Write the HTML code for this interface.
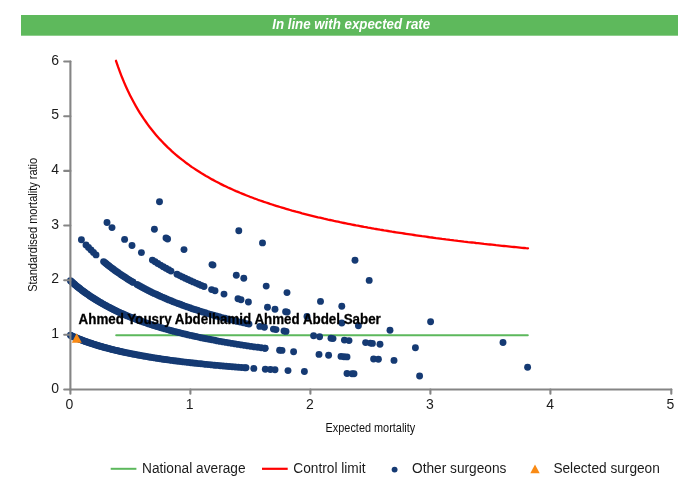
<!DOCTYPE html>
<html><head><meta charset="utf-8"><title>Funnel plot</title>
<style>
html,body{margin:0;padding:0;background:#fff;}
svg{display:block;font-family:"Liberation Sans",sans-serif;}
</style></head>
<body>
<svg width="700" height="500" viewBox="0 0 700 500">
<rect width="700" height="500" fill="#fff"/>
<rect x="21" y="15" width="657" height="20.7" fill="#5eb95c"/>
<text x="272.2" y="28.9" font-size="14" textLength="158" lengthAdjust="spacingAndGlyphs" font-weight="bold" font-style="italic" fill="#fff">In line with expected rate</text>
<line x1="116.2" y1="335.2" x2="527.8" y2="335.2" stroke="#5cb85c" stroke-width="2" stroke-linecap="round"/>
<g fill="#153a73">
<circle cx="70.4" cy="335.3" r="3.45"/>
<circle cx="71.3" cy="335.8" r="3.45"/>
<circle cx="72.2" cy="336.2" r="3.45"/>
<circle cx="73.2" cy="336.6" r="3.45"/>
<circle cx="74.1" cy="337.0" r="3.45"/>
<circle cx="75.0" cy="337.4" r="3.45"/>
<circle cx="76.0" cy="337.8" r="3.45"/>
<circle cx="77.0" cy="338.2" r="3.45"/>
<circle cx="78.0" cy="338.6" r="3.45"/>
<circle cx="79.0" cy="339.0" r="3.45"/>
<circle cx="80.0" cy="339.4" r="3.45"/>
<circle cx="81.0" cy="339.8" r="3.45"/>
<circle cx="82.1" cy="340.2" r="3.45"/>
<circle cx="83.2" cy="340.6" r="3.45"/>
<circle cx="84.2" cy="341.0" r="3.45"/>
<circle cx="85.3" cy="341.4" r="3.45"/>
<circle cx="86.4" cy="341.8" r="3.45"/>
<circle cx="87.5" cy="342.2" r="3.45"/>
<circle cx="88.7" cy="342.6" r="3.45"/>
<circle cx="89.8" cy="343.0" r="3.45"/>
<circle cx="91.0" cy="343.3" r="3.45"/>
<circle cx="92.2" cy="343.7" r="3.45"/>
<circle cx="93.4" cy="344.1" r="3.45"/>
<circle cx="94.6" cy="344.5" r="3.45"/>
<circle cx="95.8" cy="344.9" r="3.45"/>
<circle cx="97.0" cy="345.3" r="3.45"/>
<circle cx="98.3" cy="345.7" r="3.45"/>
<circle cx="99.6" cy="346.0" r="3.45"/>
<circle cx="100.9" cy="346.4" r="3.45"/>
<circle cx="102.2" cy="346.8" r="3.45"/>
<circle cx="103.5" cy="347.2" r="3.45"/>
<circle cx="104.9" cy="347.5" r="3.45"/>
<circle cx="106.2" cy="347.9" r="3.45"/>
<circle cx="107.6" cy="348.3" r="3.45"/>
<circle cx="109.0" cy="348.6" r="3.45"/>
<circle cx="110.4" cy="349.0" r="3.45"/>
<circle cx="111.9" cy="349.4" r="3.45"/>
<circle cx="113.3" cy="349.7" r="3.45"/>
<circle cx="114.8" cy="350.1" r="3.45"/>
<circle cx="116.3" cy="350.5" r="3.45"/>
<circle cx="117.8" cy="350.8" r="3.45"/>
<circle cx="119.4" cy="351.2" r="3.45"/>
<circle cx="120.9" cy="351.5" r="3.45"/>
<circle cx="122.5" cy="351.9" r="3.45"/>
<circle cx="124.1" cy="352.2" r="3.45"/>
<circle cx="125.7" cy="352.6" r="3.45"/>
<circle cx="127.4" cy="352.9" r="3.45"/>
<circle cx="129.0" cy="353.3" r="3.45"/>
<circle cx="130.7" cy="353.6" r="3.45"/>
<circle cx="132.4" cy="354.0" r="3.45"/>
<circle cx="134.2" cy="354.3" r="3.45"/>
<circle cx="135.9" cy="354.6" r="3.45"/>
<circle cx="137.7" cy="355.0" r="3.45"/>
<circle cx="139.5" cy="355.3" r="3.45"/>
<circle cx="141.3" cy="355.6" r="3.45"/>
<circle cx="143.2" cy="356.0" r="3.45"/>
<circle cx="145.1" cy="356.3" r="3.45"/>
<circle cx="147.0" cy="356.6" r="3.45"/>
<circle cx="148.9" cy="357.0" r="3.45"/>
<circle cx="150.8" cy="357.3" r="3.45"/>
<circle cx="152.8" cy="357.6" r="3.45"/>
<circle cx="154.8" cy="357.9" r="3.45"/>
<circle cx="156.8" cy="358.2" r="3.45"/>
<circle cx="158.9" cy="358.5" r="3.45"/>
<circle cx="161.0" cy="358.9" r="3.45"/>
<circle cx="163.1" cy="359.2" r="3.45"/>
<circle cx="165.2" cy="359.5" r="3.45"/>
<circle cx="167.4" cy="359.8" r="3.45"/>
<circle cx="169.6" cy="360.1" r="3.45"/>
<circle cx="171.8" cy="360.4" r="3.45"/>
<circle cx="174.1" cy="360.7" r="3.45"/>
<circle cx="176.4" cy="361.0" r="3.45"/>
<circle cx="178.7" cy="361.3" r="3.45"/>
<circle cx="181.1" cy="361.6" r="3.45"/>
<circle cx="183.4" cy="361.9" r="3.45"/>
<circle cx="185.9" cy="362.1" r="3.45"/>
<circle cx="188.3" cy="362.4" r="3.45"/>
<circle cx="190.8" cy="362.7" r="3.45"/>
<circle cx="193.3" cy="363.0" r="3.45"/>
<circle cx="195.8" cy="363.3" r="3.45"/>
<circle cx="198.4" cy="363.6" r="3.45"/>
<circle cx="201.0" cy="363.8" r="3.45"/>
<circle cx="203.7" cy="364.1" r="3.45"/>
<circle cx="206.3" cy="364.4" r="3.45"/>
<circle cx="209.1" cy="364.6" r="3.45"/>
<circle cx="211.8" cy="364.9" r="3.45"/>
<circle cx="214.6" cy="365.2" r="3.45"/>
<circle cx="217.4" cy="365.4" r="3.45"/>
<circle cx="220.3" cy="365.7" r="3.45"/>
<circle cx="223.2" cy="366.0" r="3.45"/>
<circle cx="226.2" cy="366.2" r="3.45"/>
<circle cx="229.1" cy="366.5" r="3.45"/>
<circle cx="232.2" cy="366.7" r="3.45"/>
<circle cx="235.2" cy="367.0" r="3.45"/>
<circle cx="238.3" cy="367.2" r="3.45"/>
<circle cx="241.5" cy="367.5" r="3.45"/>
<circle cx="244.7" cy="367.7" r="3.45"/>
<circle cx="246.0" cy="367.8" r="3.45"/>
<circle cx="253.8" cy="368.4" r="3.45"/>
<circle cx="265.3" cy="369.2" r="3.45"/>
<circle cx="270.4" cy="369.5" r="3.45"/>
<circle cx="275.0" cy="369.8" r="3.45"/>
<circle cx="288.0" cy="370.6" r="3.45"/>
<circle cx="304.4" cy="371.5" r="3.45"/>
<circle cx="347.0" cy="373.5" r="3.45"/>
<circle cx="352.0" cy="373.7" r="3.45"/>
<circle cx="354.0" cy="373.7" r="3.45"/>
<circle cx="419.6" cy="376.0" r="3.45"/>
<circle cx="70.4" cy="280.7" r="3.45"/>
<circle cx="71.3" cy="281.5" r="3.45"/>
<circle cx="72.2" cy="282.3" r="3.45"/>
<circle cx="73.2" cy="283.1" r="3.45"/>
<circle cx="74.1" cy="283.9" r="3.45"/>
<circle cx="75.0" cy="284.8" r="3.45"/>
<circle cx="76.0" cy="285.6" r="3.45"/>
<circle cx="77.0" cy="286.4" r="3.45"/>
<circle cx="78.0" cy="287.2" r="3.45"/>
<circle cx="79.0" cy="288.0" r="3.45"/>
<circle cx="80.0" cy="288.8" r="3.45"/>
<circle cx="81.0" cy="289.6" r="3.45"/>
<circle cx="82.1" cy="290.4" r="3.45"/>
<circle cx="83.2" cy="291.2" r="3.45"/>
<circle cx="84.2" cy="292.0" r="3.45"/>
<circle cx="85.3" cy="292.8" r="3.45"/>
<circle cx="86.4" cy="293.6" r="3.45"/>
<circle cx="87.5" cy="294.3" r="3.45"/>
<circle cx="88.7" cy="295.1" r="3.45"/>
<circle cx="89.8" cy="295.9" r="3.45"/>
<circle cx="91.0" cy="296.7" r="3.45"/>
<circle cx="92.2" cy="297.5" r="3.45"/>
<circle cx="93.4" cy="298.2" r="3.45"/>
<circle cx="94.6" cy="299.0" r="3.45"/>
<circle cx="95.8" cy="299.8" r="3.45"/>
<circle cx="97.0" cy="300.5" r="3.45"/>
<circle cx="98.3" cy="301.3" r="3.45"/>
<circle cx="99.6" cy="302.1" r="3.45"/>
<circle cx="100.9" cy="302.8" r="3.45"/>
<circle cx="102.2" cy="303.6" r="3.45"/>
<circle cx="103.5" cy="304.3" r="3.45"/>
<circle cx="104.9" cy="305.1" r="3.45"/>
<circle cx="106.2" cy="305.8" r="3.45"/>
<circle cx="107.6" cy="306.6" r="3.45"/>
<circle cx="109.0" cy="307.3" r="3.45"/>
<circle cx="110.4" cy="308.0" r="3.45"/>
<circle cx="111.9" cy="308.8" r="3.45"/>
<circle cx="113.3" cy="309.5" r="3.45"/>
<circle cx="114.8" cy="310.2" r="3.45"/>
<circle cx="116.3" cy="310.9" r="3.45"/>
<circle cx="117.8" cy="311.7" r="3.45"/>
<circle cx="119.4" cy="312.4" r="3.45"/>
<circle cx="120.9" cy="313.1" r="3.45"/>
<circle cx="122.5" cy="313.8" r="3.45"/>
<circle cx="124.1" cy="314.5" r="3.45"/>
<circle cx="125.7" cy="315.2" r="3.45"/>
<circle cx="127.4" cy="315.9" r="3.45"/>
<circle cx="129.0" cy="316.6" r="3.45"/>
<circle cx="130.7" cy="317.3" r="3.45"/>
<circle cx="132.4" cy="317.9" r="3.45"/>
<circle cx="134.2" cy="318.6" r="3.45"/>
<circle cx="135.9" cy="319.3" r="3.45"/>
<circle cx="137.7" cy="320.0" r="3.45"/>
<circle cx="139.5" cy="320.6" r="3.45"/>
<circle cx="141.3" cy="321.3" r="3.45"/>
<circle cx="143.2" cy="322.0" r="3.45"/>
<circle cx="145.1" cy="322.6" r="3.45"/>
<circle cx="147.0" cy="323.3" r="3.45"/>
<circle cx="148.9" cy="323.9" r="3.45"/>
<circle cx="150.8" cy="324.6" r="3.45"/>
<circle cx="152.8" cy="325.2" r="3.45"/>
<circle cx="154.8" cy="325.8" r="3.45"/>
<circle cx="156.8" cy="326.5" r="3.45"/>
<circle cx="158.9" cy="327.1" r="3.45"/>
<circle cx="161.0" cy="327.7" r="3.45"/>
<circle cx="163.1" cy="328.3" r="3.45"/>
<circle cx="165.2" cy="328.9" r="3.45"/>
<circle cx="167.4" cy="329.6" r="3.45"/>
<circle cx="169.6" cy="330.2" r="3.45"/>
<circle cx="171.8" cy="330.8" r="3.45"/>
<circle cx="174.1" cy="331.4" r="3.45"/>
<circle cx="176.4" cy="332.0" r="3.45"/>
<circle cx="178.7" cy="332.5" r="3.45"/>
<circle cx="181.1" cy="333.1" r="3.45"/>
<circle cx="183.4" cy="333.7" r="3.45"/>
<circle cx="185.9" cy="334.3" r="3.45"/>
<circle cx="188.3" cy="334.9" r="3.45"/>
<circle cx="190.8" cy="335.4" r="3.45"/>
<circle cx="193.3" cy="336.0" r="3.45"/>
<circle cx="195.8" cy="336.5" r="3.45"/>
<circle cx="198.4" cy="337.1" r="3.45"/>
<circle cx="201.0" cy="337.7" r="3.45"/>
<circle cx="203.7" cy="338.2" r="3.45"/>
<circle cx="206.3" cy="338.7" r="3.45"/>
<circle cx="209.1" cy="339.3" r="3.45"/>
<circle cx="211.8" cy="339.8" r="3.45"/>
<circle cx="214.6" cy="340.3" r="3.45"/>
<circle cx="217.4" cy="340.9" r="3.45"/>
<circle cx="220.3" cy="341.4" r="3.45"/>
<circle cx="223.2" cy="341.9" r="3.45"/>
<circle cx="226.2" cy="342.4" r="3.45"/>
<circle cx="229.1" cy="342.9" r="3.45"/>
<circle cx="232.2" cy="343.4" r="3.45"/>
<circle cx="235.2" cy="343.9" r="3.45"/>
<circle cx="238.3" cy="344.4" r="3.45"/>
<circle cx="241.5" cy="344.9" r="3.45"/>
<circle cx="244.7" cy="345.4" r="3.45"/>
<circle cx="247.9" cy="345.9" r="3.45"/>
<circle cx="251.2" cy="346.4" r="3.45"/>
<circle cx="254.5" cy="346.9" r="3.45"/>
<circle cx="257.8" cy="347.3" r="3.45"/>
<circle cx="261.2" cy="347.8" r="3.45"/>
<circle cx="264.7" cy="348.3" r="3.45"/>
<circle cx="265.2" cy="348.3" r="3.45"/>
<circle cx="279.6" cy="350.2" r="3.45"/>
<circle cx="282.0" cy="350.4" r="3.45"/>
<circle cx="293.6" cy="351.8" r="3.45"/>
<circle cx="319.0" cy="354.4" r="3.45"/>
<circle cx="328.6" cy="355.3" r="3.45"/>
<circle cx="341.0" cy="356.4" r="3.45"/>
<circle cx="344.0" cy="356.7" r="3.45"/>
<circle cx="347.0" cy="356.9" r="3.45"/>
<circle cx="373.6" cy="359.0" r="3.45"/>
<circle cx="378.4" cy="359.3" r="3.45"/>
<circle cx="394.0" cy="360.4" r="3.45"/>
<circle cx="527.6" cy="367.3" r="3.45"/>
<circle cx="81.4" cy="239.8" r="3.45"/>
<circle cx="86.0" cy="244.9" r="3.45"/>
<circle cx="88.5" cy="247.5" r="3.45"/>
<circle cx="91.0" cy="250.0" r="3.45"/>
<circle cx="93.5" cy="252.5" r="3.45"/>
<circle cx="96.0" cy="254.9" r="3.45"/>
<circle cx="103.6" cy="261.6" r="3.45"/>
<circle cx="105.0" cy="262.7" r="3.45"/>
<circle cx="106.3" cy="263.8" r="3.45"/>
<circle cx="107.7" cy="264.9" r="3.45"/>
<circle cx="109.1" cy="266.0" r="3.45"/>
<circle cx="110.5" cy="267.1" r="3.45"/>
<circle cx="112.0" cy="268.2" r="3.45"/>
<circle cx="113.4" cy="269.3" r="3.45"/>
<circle cx="114.9" cy="270.4" r="3.45"/>
<circle cx="116.4" cy="271.5" r="3.45"/>
<circle cx="117.9" cy="272.5" r="3.45"/>
<circle cx="119.5" cy="273.6" r="3.45"/>
<circle cx="121.0" cy="274.7" r="3.45"/>
<circle cx="122.6" cy="275.7" r="3.45"/>
<circle cx="124.2" cy="276.8" r="3.45"/>
<circle cx="125.8" cy="277.8" r="3.45"/>
<circle cx="127.5" cy="278.9" r="3.45"/>
<circle cx="129.1" cy="279.9" r="3.45"/>
<circle cx="130.8" cy="280.9" r="3.45"/>
<circle cx="132.5" cy="282.0" r="3.45"/>
<circle cx="133.0" cy="282.2" r="3.45"/>
<circle cx="137.0" cy="284.5" r="3.45"/>
<circle cx="138.8" cy="285.5" r="3.45"/>
<circle cx="140.6" cy="286.5" r="3.45"/>
<circle cx="142.4" cy="287.5" r="3.45"/>
<circle cx="144.3" cy="288.5" r="3.45"/>
<circle cx="146.2" cy="289.5" r="3.45"/>
<circle cx="148.1" cy="290.5" r="3.45"/>
<circle cx="150.1" cy="291.4" r="3.45"/>
<circle cx="152.0" cy="292.4" r="3.45"/>
<circle cx="154.0" cy="293.4" r="3.45"/>
<circle cx="156.1" cy="294.3" r="3.45"/>
<circle cx="158.1" cy="295.3" r="3.45"/>
<circle cx="160.2" cy="296.2" r="3.45"/>
<circle cx="162.3" cy="297.1" r="3.45"/>
<circle cx="164.4" cy="298.0" r="3.45"/>
<circle cx="166.6" cy="299.0" r="3.45"/>
<circle cx="168.8" cy="299.9" r="3.45"/>
<circle cx="171.0" cy="300.8" r="3.45"/>
<circle cx="173.2" cy="301.7" r="3.45"/>
<circle cx="175.5" cy="302.6" r="3.45"/>
<circle cx="177.8" cy="303.5" r="3.45"/>
<circle cx="180.1" cy="304.3" r="3.45"/>
<circle cx="182.5" cy="305.2" r="3.45"/>
<circle cx="184.9" cy="306.1" r="3.45"/>
<circle cx="187.3" cy="306.9" r="3.45"/>
<circle cx="189.8" cy="307.8" r="3.45"/>
<circle cx="192.3" cy="308.7" r="3.45"/>
<circle cx="194.8" cy="309.5" r="3.45"/>
<circle cx="197.4" cy="310.3" r="3.45"/>
<circle cx="200.0" cy="311.2" r="3.45"/>
<circle cx="202.6" cy="312.0" r="3.45"/>
<circle cx="205.3" cy="312.8" r="3.45"/>
<circle cx="208.0" cy="313.6" r="3.45"/>
<circle cx="210.7" cy="314.4" r="3.45"/>
<circle cx="213.5" cy="315.2" r="3.45"/>
<circle cx="216.3" cy="316.0" r="3.45"/>
<circle cx="219.2" cy="316.8" r="3.45"/>
<circle cx="222.1" cy="317.6" r="3.45"/>
<circle cx="225.0" cy="318.3" r="3.45"/>
<circle cx="228.0" cy="319.1" r="3.45"/>
<circle cx="231.0" cy="319.9" r="3.45"/>
<circle cx="234.0" cy="320.6" r="3.45"/>
<circle cx="237.1" cy="321.4" r="3.45"/>
<circle cx="240.2" cy="322.1" r="3.45"/>
<circle cx="243.4" cy="322.8" r="3.45"/>
<circle cx="246.6" cy="323.6" r="3.45"/>
<circle cx="249.0" cy="324.1" r="3.45"/>
<circle cx="259.8" cy="326.4" r="3.45"/>
<circle cx="264.4" cy="327.3" r="3.45"/>
<circle cx="273.4" cy="329.1" r="3.45"/>
<circle cx="276.0" cy="329.6" r="3.45"/>
<circle cx="284.0" cy="331.0" r="3.45"/>
<circle cx="286.0" cy="331.4" r="3.45"/>
<circle cx="313.6" cy="335.8" r="3.45"/>
<circle cx="319.6" cy="336.7" r="3.45"/>
<circle cx="331.0" cy="338.3" r="3.45"/>
<circle cx="333.0" cy="338.6" r="3.45"/>
<circle cx="344.4" cy="340.1" r="3.45"/>
<circle cx="349.0" cy="340.6" r="3.45"/>
<circle cx="365.6" cy="342.6" r="3.45"/>
<circle cx="370.4" cy="343.1" r="3.45"/>
<circle cx="372.4" cy="343.4" r="3.45"/>
<circle cx="380.0" cy="344.2" r="3.45"/>
<circle cx="415.4" cy="347.7" r="3.45"/>
<circle cx="107.0" cy="222.5" r="3.45"/>
<circle cx="112.0" cy="227.6" r="3.45"/>
<circle cx="124.6" cy="239.4" r="3.45"/>
<circle cx="132.0" cy="245.5" r="3.45"/>
<circle cx="141.4" cy="252.6" r="3.45"/>
<circle cx="152.4" cy="260.1" r="3.45"/>
<circle cx="155.1" cy="261.8" r="3.45"/>
<circle cx="157.8" cy="263.5" r="3.45"/>
<circle cx="160.5" cy="265.1" r="3.45"/>
<circle cx="163.2" cy="266.7" r="3.45"/>
<circle cx="165.9" cy="268.3" r="3.45"/>
<circle cx="168.6" cy="269.8" r="3.45"/>
<circle cx="171.0" cy="271.1" r="3.45"/>
<circle cx="177.0" cy="274.2" r="3.45"/>
<circle cx="179.7" cy="275.6" r="3.45"/>
<circle cx="182.4" cy="276.9" r="3.45"/>
<circle cx="185.1" cy="278.2" r="3.45"/>
<circle cx="187.8" cy="279.5" r="3.45"/>
<circle cx="190.5" cy="280.7" r="3.45"/>
<circle cx="193.2" cy="281.9" r="3.45"/>
<circle cx="195.9" cy="283.1" r="3.45"/>
<circle cx="198.6" cy="284.3" r="3.45"/>
<circle cx="201.3" cy="285.4" r="3.45"/>
<circle cx="204.0" cy="286.5" r="3.45"/>
<circle cx="211.6" cy="289.6" r="3.45"/>
<circle cx="215.0" cy="290.8" r="3.45"/>
<circle cx="224.0" cy="294.1" r="3.45"/>
<circle cx="238.0" cy="298.8" r="3.45"/>
<circle cx="241.0" cy="299.7" r="3.45"/>
<circle cx="248.4" cy="302.0" r="3.45"/>
<circle cx="267.5" cy="307.3" r="3.45"/>
<circle cx="275.0" cy="309.2" r="3.45"/>
<circle cx="285.6" cy="311.7" r="3.45"/>
<circle cx="287.2" cy="312.1" r="3.45"/>
<circle cx="307.0" cy="316.4" r="3.45"/>
<circle cx="341.8" cy="323.0" r="3.45"/>
<circle cx="358.4" cy="325.7" r="3.45"/>
<circle cx="390.0" cy="330.3" r="3.45"/>
<circle cx="503.0" cy="342.5" r="3.45"/>
<circle cx="154.4" cy="229.2" r="3.45"/>
<circle cx="166.0" cy="237.9" r="3.45"/>
<circle cx="167.6" cy="239.0" r="3.45"/>
<circle cx="184.0" cy="249.6" r="3.45"/>
<circle cx="212.0" cy="264.6" r="3.45"/>
<circle cx="213.0" cy="265.1" r="3.45"/>
<circle cx="236.3" cy="275.3" r="3.45"/>
<circle cx="243.8" cy="278.2" r="3.45"/>
<circle cx="266.2" cy="286.1" r="3.45"/>
<circle cx="287.0" cy="292.6" r="3.45"/>
<circle cx="320.5" cy="301.4" r="3.45"/>
<circle cx="341.8" cy="306.2" r="3.45"/>
<circle cx="430.6" cy="321.7" r="3.45"/>
<circle cx="159.5" cy="201.8" r="3.45"/>
<circle cx="238.8" cy="230.8" r="3.45"/>
<circle cx="262.5" cy="242.9" r="3.45"/>
<circle cx="369.2" cy="280.4" r="3.45"/>
<circle cx="355.0" cy="260.3" r="3.45"/>
</g>
<path d="M116.0,60.8 L118.0,66.7 L120.0,72.1 L122.0,77.3 L124.0,82.1 L126.0,86.7 L128.0,91.1 L130.0,95.2 L132.0,99.1 L134.0,102.8 L136.0,106.4 L138.0,109.8 L140.0,113.1 L142.0,116.2 L144.0,119.2 L146.0,122.0 L148.0,124.8 L150.0,127.5 L152.0,130.0 L154.0,132.5 L156.0,134.9 L158.0,137.2 L160.0,139.4 L162.0,141.5 L164.0,143.6 L166.0,145.6 L168.0,147.6 L170.0,149.4 L172.0,151.3 L174.0,153.1 L176.0,154.8 L178.0,156.5 L180.0,158.1 L182.0,159.7 L184.0,161.2 L186.0,162.8 L188.0,164.2 L190.0,165.7 L192.0,167.1 L194.0,168.4 L196.0,169.7 L198.0,171.0 L200.0,172.3 L202.0,173.6 L204.0,174.8 L206.0,176.0 L208.0,177.1 L210.0,178.2 L212.0,179.4 L214.0,180.4 L216.0,181.5 L218.0,182.5 L220.0,183.6 L222.0,184.6 L224.0,185.6 L226.0,186.5 L228.0,187.5 L230.0,188.4 L232.0,189.3 L234.0,190.2 L236.0,191.1 L238.0,191.9 L240.0,192.8 L242.0,193.6 L244.0,194.4 L246.0,195.2 L248.0,196.0 L250.0,196.8 L252.0,197.5 L254.0,198.3 L256.0,199.0 L258.0,199.8 L260.0,200.5 L262.0,201.2 L264.0,201.9 L266.0,202.5 L268.0,203.2 L270.0,203.9 L272.0,204.5 L274.0,205.2 L276.0,205.8 L278.0,206.4 L280.0,207.0 L282.0,207.6 L284.0,208.2 L286.0,208.8 L288.0,209.4 L290.0,210.0 L292.0,210.6 L294.0,211.1 L296.0,211.7 L298.0,212.2 L300.0,212.7 L302.0,213.3 L304.0,213.8 L306.0,214.3 L308.0,214.8 L310.0,215.3 L312.0,215.8 L314.0,216.3 L316.0,216.8 L318.0,217.3 L320.0,217.7 L322.0,218.2 L324.0,218.7 L326.0,219.1 L328.0,219.6 L330.0,220.0 L332.0,220.4 L334.0,220.9 L336.0,221.3 L338.0,221.7 L340.0,222.2 L342.0,222.6 L344.0,223.0 L346.0,223.4 L348.0,223.8 L350.0,224.2 L352.0,224.6 L354.0,225.0 L356.0,225.4 L358.0,225.7 L360.0,226.1 L362.0,226.5 L364.0,226.9 L366.0,227.2 L368.0,227.6 L370.0,227.9 L372.0,228.3 L374.0,228.7 L376.0,229.0 L378.0,229.3 L380.0,229.7 L382.0,230.0 L384.0,230.4 L386.0,230.7 L388.0,231.0 L390.0,231.3 L392.0,231.7 L394.0,232.0 L396.0,232.3 L398.0,232.6 L400.0,232.9 L402.0,233.2 L404.0,233.5 L406.0,233.8 L408.0,234.1 L410.0,234.4 L412.0,234.7 L414.0,235.0 L416.0,235.3 L418.0,235.6 L420.0,235.9 L422.0,236.2 L424.0,236.4 L426.0,236.7 L428.0,237.0 L430.0,237.3 L432.0,237.5 L434.0,237.8 L436.0,238.1 L438.0,238.3 L440.0,238.6 L442.0,238.9 L444.0,239.1 L446.0,239.4 L448.0,239.6 L450.0,239.9 L452.0,240.1 L454.0,240.4 L456.0,240.6 L458.0,240.9 L460.0,241.1 L462.0,241.3 L464.0,241.6 L466.0,241.8 L468.0,242.1 L470.0,242.3 L472.0,242.5 L474.0,242.7 L476.0,243.0 L478.0,243.2 L480.0,243.4 L482.0,243.6 L484.0,243.9 L486.0,244.1 L488.0,244.3 L490.0,244.5 L492.0,244.7 L494.0,244.9 L496.0,245.2 L498.0,245.4 L500.0,245.6 L502.0,245.8 L504.0,246.0 L506.0,246.2 L508.0,246.4 L510.0,246.6 L512.0,246.8 L514.0,247.0 L516.0,247.2 L518.0,247.4 L520.0,247.6 L522.0,247.8 L524.0,248.0 L526.0,248.2 L528.0,248.3" fill="none" stroke="#f00" stroke-width="2.3" stroke-linecap="round" stroke-linejoin="round"/>
<g stroke="#858585" stroke-width="2.1" stroke-linecap="round">
<line x1="70.4" y1="61.5" x2="70.4" y2="389.5"/>
<line x1="70.4" y1="389.5" x2="671.3" y2="389.5"/>
<line x1="64.2" y1="389.5" x2="70.4" y2="389.5"/><line x1="64.2" y1="334.8" x2="70.4" y2="334.8"/><line x1="64.2" y1="280.2" x2="70.4" y2="280.2"/><line x1="64.2" y1="225.5" x2="70.4" y2="225.5"/><line x1="64.2" y1="170.9" x2="70.4" y2="170.9"/><line x1="64.2" y1="116.2" x2="70.4" y2="116.2"/><line x1="64.2" y1="61.5" x2="70.4" y2="61.5"/><line x1="70.4" y1="389.5" x2="70.4" y2="393.7"/><line x1="190.4" y1="389.5" x2="190.4" y2="393.7"/><line x1="310.4" y1="389.5" x2="310.4" y2="393.7"/><line x1="430.4" y1="389.5" x2="430.4" y2="393.7"/><line x1="550.4" y1="389.5" x2="550.4" y2="393.7"/><line x1="671.3" y1="389.5" x2="671.3" y2="393.7"/>
</g>
<polygon points="76.6,333.2 81.8,342.8 71.8,342.8" fill="#f98a14"/>
<g font-size="14" fill="#1c1c1c"><text x="59.1" y="392.6" text-anchor="end">0</text><text x="59.1" y="337.9" text-anchor="end">1</text><text x="59.1" y="283.3" text-anchor="end">2</text><text x="59.1" y="228.6" text-anchor="end">3</text><text x="59.1" y="174.0" text-anchor="end">4</text><text x="59.1" y="119.3" text-anchor="end">5</text><text x="59.1" y="64.6" text-anchor="end">6</text><text x="69.4" y="408.6" text-anchor="middle">0</text><text x="189.6" y="408.6" text-anchor="middle">1</text><text x="309.8" y="408.6" text-anchor="middle">2</text><text x="430.0" y="408.6" text-anchor="middle">3</text><text x="550.2" y="408.6" text-anchor="middle">4</text><text x="670.4" y="408.6" text-anchor="middle">5</text></g>
<text x="325.6" y="432.1" font-size="12.2" textLength="89.6" lengthAdjust="spacingAndGlyphs" fill="#111">Expected mortality</text>
<text transform="translate(36.9,291.8) rotate(-90)" font-size="12.2" textLength="134" lengthAdjust="spacingAndGlyphs" fill="#111">Standardised mortality ratio</text>
<text x="78.6" y="323.8" font-size="14" textLength="302.2" lengthAdjust="spacingAndGlyphs" font-weight="bold" fill="#000" stroke="#000" stroke-width="0.3">Ahmed Yousry Abdelhamid Ahmed Abdel Saber</text>
<g font-size="14" fill="#1c1c1c">
<line x1="110.7" y1="468.8" x2="136.4" y2="468.8" stroke="#5cb85c" stroke-width="2"/>
<text x="142" y="472.7" textLength="103.6" lengthAdjust="spacingAndGlyphs">National average</text>
<line x1="262" y1="468.8" x2="287.7" y2="468.8" stroke="#f00" stroke-width="2.2"/>
<text x="293.3" y="472.7" textLength="72.3" lengthAdjust="spacingAndGlyphs">Control limit</text>
<circle cx="394.6" cy="469.6" r="2.95" fill="#153a73"/>
<text x="412" y="472.7" textLength="94.4" lengthAdjust="spacingAndGlyphs">Other surgeons</text>
<polygon points="535,464.4 539.7,473.3 530.3,473.3" fill="#f98a14"/>
<text x="553.4" y="472.7" textLength="106.4" lengthAdjust="spacingAndGlyphs">Selected surgeon</text>
</g>
</svg>
</body></html>
